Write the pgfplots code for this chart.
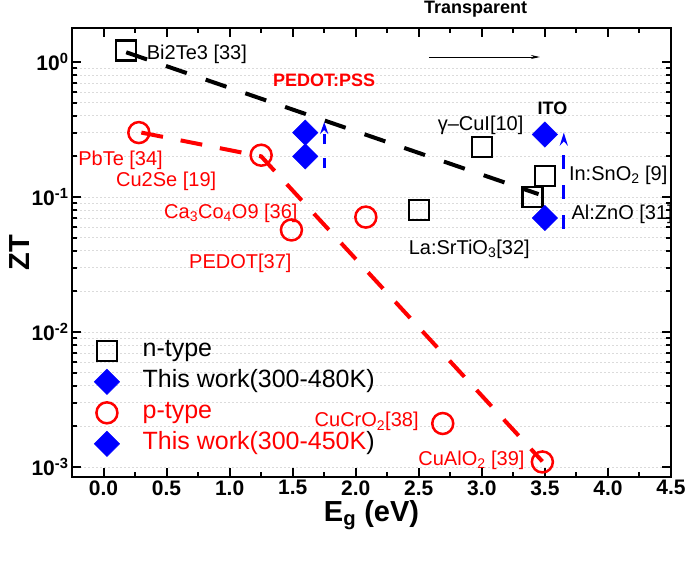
\documentclass[border=0pt]{standalone}
\usepackage{pgfplots}
\pgfplotsset{compat=1.18}
\usepackage{fontspec}
\setmainfont{Liberation Sans}
\usetikzlibrary{arrows.meta}
\newcommand\lab{\fontsize{20bp}{24bp}\selectfont}
\newcommand\blab{\fontsize{18bp}{22bp}\selectfont\bfseries}
\newcommand\legf{\fontsize{25bp}{29bp}\selectfont}
\begin{document}
\begin{tikzpicture}
\begin{axis}[
  name=ax,
  scale only axis,
  width=599bp, height=449bp,
  xmin=-0.25, xmax=4.5,
  ymode=log, ymin=8.43e-4, ymax=1.786,
  xtick={0,0.5,...,4.5},
  minor x tick num=1,
  ytick={1e-3,1e-2,1e-1,1},
  yticklabels={10\textsuperscript{-3},10\textsuperscript{-2},10\textsuperscript{-1},10\textsuperscript{0}},
  xticklabel={\pgfmathprintnumber[fixed,fixed zerofill,precision=1,assume math mode=true]{\tick}},
  ticklabel style={font=\fontsize{21bp}{24bp}\selectfont\bfseries},
  tick align=inside,
  major tick length=9bp, minor tick length=5bp,
  every tick/.style={black, line width=2bp},
  axis line style={line width=2.5bp},
  yminorgrids,
  minor grid style={gray!28, line width=0.6bp, dash pattern=on 2bp off 2bp},
  xlabel={E\textsubscript{g} (eV)},
  ylabel={ZT},
  label style={font=\fontsize{29bp}{34bp}\selectfont\bfseries},
  xlabel style={at={(axis description cs:0.5,-0.085)}, anchor=center},
  ylabel style={at={(axis description cs:-0.087,0.5)}, anchor=center},
  clip=false,
  legend style={at={(0,0)}, anchor=south west, xshift=22bp, yshift=19bp, draw=none, fill=none, inner sep=0pt,
    font=\legf, row sep=3bp, column sep=21bp,
    nodes={inner sep=2bp, text height=18bp, text depth=6bp, font=\legf}, cells={anchor=west}},
]
% dashed trend lines
\addplot[forget plot, black, line width=4bp, dash pattern=on 22bp off 20bp] coordinates {(0.18,1.18) (3.45,0.105)};
\addplot[forget plot, red, line width=4bp, dash pattern=on 22bp off 18bp] coordinates {(0.3,0.3) (1.25,0.2) (3.48,0.0011)};
% blue dashed arrows
\addplot[forget plot, blue, line width=3bp, dash pattern=on 10bp off 14bp, -{Stealth[length=12bp,width=8bp]}] coordinates {(1.75,0.164) (1.75,0.36)};
\addplot[forget plot, blue, line width=3bp, dash pattern=on 14bp off 16bp, -{Stealth[length=13bp,width=8bp]}] coordinates {(3.65,0.058) (3.65,0.30)};
% transparent arrow
\addplot[forget plot, black, line width=0.8bp, -{Stealth[length=9bp,width=4bp]}] coordinates {(2.58,1.089) (3.46,1.089)};

\addplot[only marks, mark=square, mark size=10bp, line width=2.5bp, black]
  coordinates {(0.18,1.22) (3.0,0.235) (3.5,0.143) (3.4,0.1) (2.5,0.08)};
\addlegendentry{n-type}
\addplot[only marks, mark=square*, mark options={rotate=45}, mark size=9bp, blue]
  coordinates {(3.5,0.29) (3.5,0.07)};
\addlegendentry{This work(300-480K)}
\addplot[only marks, mark=o, mark size=10.5bp, line width=2.5bp, red]
  coordinates {(0.28,0.30) (1.25,0.204) (2.08,0.071) (1.49,0.057) (2.69,0.0021) (3.48,0.00109)};
\addlegendentry{\textcolor{red}{p-type}}
\addplot[only marks, mark=square*, mark options={rotate=45}, mark size=9bp, blue]
  coordinates {(1.6,0.30) (1.6,0.20)};
\addlegendentry{\textcolor{red}{This work(300-450K})}

% labels
\node[anchor=base west, inner sep=0, font=\lab] at (axis cs:0.342,1.05) {Bi2Te3 [33]};
\node[anchor=base, inner sep=0, font=\blab, red] at (axis cs:1.749,0.653) {PEDOT:PSS};
\node[anchor=base, inner sep=0, font=\lab, red] at (axis cs:0.135,0.1726) {PbTe [34]};
\node[anchor=base, inner sep=0, font=\lab, red] at (axis cs:0.497,0.1186) {Cu2Se [19]};
\node[anchor=base, inner sep=0, font=\lab, red] at (axis cs:1.01,0.0697) {Ca\textsubscript{3}Co\textsubscript{4}O9 [36]};
\node[anchor=base, inner sep=0, font=\lab, red] at (axis cs:1.085,0.0295) {PEDOT[37]};
\node[anchor=base, inner sep=0, font=\lab] at (axis cs:2.99,0.313) {γ–CuI[10]};
\node[anchor=base, inner sep=0, font=\blab] at (axis cs:3.56,0.405) {ITO};
\node[anchor=base west, inner sep=0, font=\lab] at (axis cs:3.69,0.1336) {In:SnO\textsubscript{2} [9]};
\node[anchor=base west, inner sep=0, font=\lab] at (axis cs:3.71,0.0685) {Al:ZnO [31]};
\node[anchor=base, inner sep=0, font=\lab] at (axis cs:2.90,0.0376) {La:SrTiO\textsubscript{3}[32]};
\node[anchor=base east, inner sep=0, font=\lab, red] at (axis cs:2.50,0.00198) {CuCrO\textsubscript{2}[38]};
\node[anchor=base east, inner sep=0, font=\lab, red] at (axis cs:3.34,0.00102) {CuAlO\textsubscript{2} [39]};
\node[anchor=base, inner sep=0, font=\blab] at (axis cs:2.95,2.27) {Transparent};
\end{axis}
\pgfresetboundingbox
\path ([shift={(-72bp,-83bp)}]ax.south west) rectangle ([shift={(14bp,28bp)}]ax.north east);
\end{tikzpicture}
\end{document}
